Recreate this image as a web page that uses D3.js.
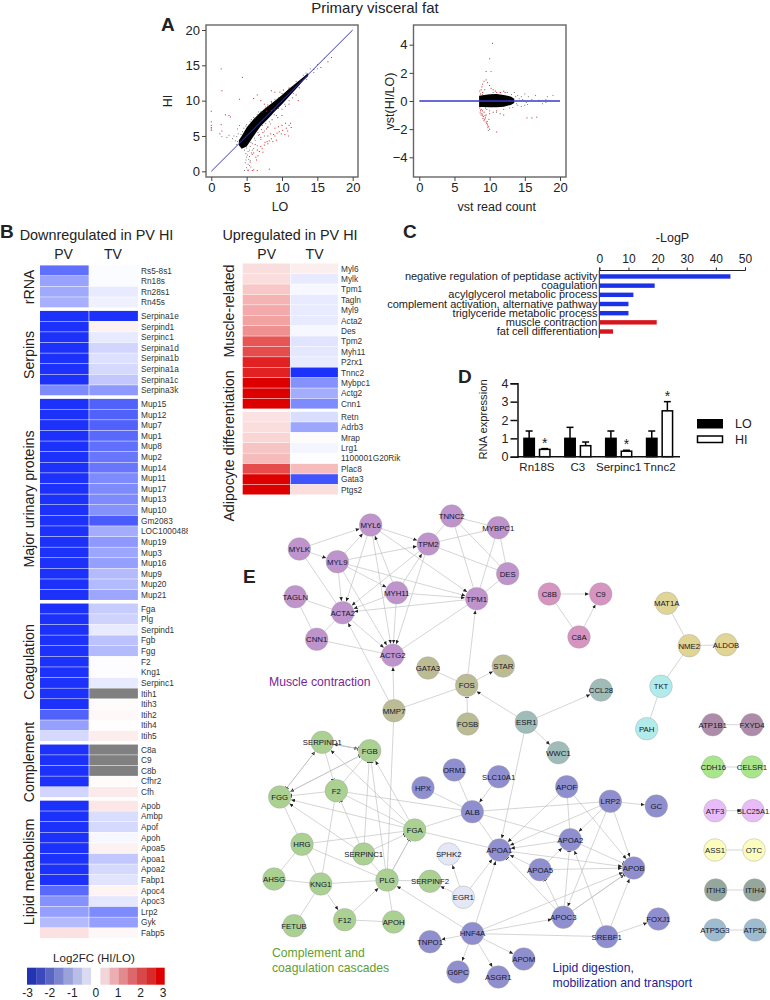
<!DOCTYPE html>
<html><head><meta charset="utf-8">
<script src="https://cdn.jsdelivr.net/npm/d3@7/dist/d3.min.js"></script>
<style>html,body{margin:0;padding:0;background:#fff}svg{display:block}text{font-family:"Liberation Sans",Arial,sans-serif;fill:#222}</style>
</head><body><svg id="c" width="770" height="1000" viewBox="0 0 770 1000"></svg>
<script>
// ---------- Panel A data
const scatterBandX=[3.9,4.3,5,6,7,8,9,10,11,12,13,13.7];
const scatterBandLow=[3.7,3.2,3.5,5,6.4,7.4,8.5,9.5,10.6,11.7,12.8,13.5];
const scatterBandHigh=[4.4,5,6.2,7.4,8.4,9.2,10,10.8,11.7,12.5,13.3,13.9];
const scatterRed=[[1.4,14.5],[4.4,13.3],[1.5,11.4],[4,10.2],[0,8.5],[0,7],[0,6.5],[0,6.2],[0,6],[0,5.8],[1.4,6.6],[1.5,5.7],[1.2,5.3],[2,8],[2.5,7.9],[2.7,7.7],[6,10.3],[6.5,10.8],[7,10],[7.5,9.5],[8.5,11.4],[9,11.2],[9.7,11.2],[10.2,11.5],[11,11.8],[8.5,9.9],[8,9.2],[7.8,8.5],[8.5,8.6],[9,8.7],[10.5,9.2],[11,9.5],[11.5,10.4],[12,10.8],[12.3,10],[17,16.1],[16.5,15.5],[14.5,14.4],[15.5,14.7],[6,2.6],[6.5,3],[6.8,2.8],[7,3.5],[7.2,3.2],[7.5,3.7],[7.6,4.1],[7.9,4.2],[8,3.9],[8.2,4.3],[8.5,4.6],[8.7,4.2],[8,5],[8.4,5.3],[8.8,5.2],[9,5],[9.3,5.4],[9.6,5.6],[9.9,5.3],[10.1,5.8],[10.4,5.2],[10.6,6.1],[10.8,5.7],[11,6.5],[11.2,6.8],[9,6.1],[9.5,6.3],[10,6.5],[10.5,6.8],[8,6.3],[7.8,6],[7.3,5.5],[6.7,5.1],[7,4.8],[11.3,6.2],[10.9,5],[9.2,4.4],[6.2,3.8],[5.8,2.4],[6.3,2],[6,0.2],[5.8,0.1],[6.5,0.1],[5.2,0.1],[8.2,0.3],[6.4,1.6],[6.6,2.2],[7.3,2.7],[5.5,1.3],[8.6,7.3],[9.4,7.6],[10,7.9],[7.2,6.5]];
const scatterBlack=[[4.7,3],[4.9,2.5],[5,2],[5.3,1.7],[4.8,1.2],[5.2,1],[5.5,1.5],[5,0.5],[5.4,0.8],[4.7,0.1],[5.2,0.2],[5.8,3],[5.5,3.5],[5.2,2.8],[6,3.2],[5,3.3],[6.5,3.6],[7,4.5],[7.5,5],[8,6.2],[3.2,5],[3.8,5.3],[2.5,5.1],[3,4.6],[2.2,4.8],[3.7,6],[4,6.5],[1.5,4.9],[5,6.6],[5.5,7],[6,7.6],[6.5,8],[7,8.4],[7.5,8.8],[8,9.4],[9,10.2],[10,11],[11,11.7],[12,12.7],[13,13.6],[14,14.5],[15,15.1],[16,16],[14.5,14],[15,14.5],[13.5,13],[12.5,11.8],[4.8,3.7],[5.6,4.1],[6.2,4.4],[6.8,5.2],[7.5,5.7],[8.4,6.7],[9.2,7.9],[10,8.8],[3.4,4.3],[3.6,4.9],[4.4,5.6],[4.6,6.1],[5.3,6.5],[6.2,7.5],[7.2,8.3],[5.7,2.6],[5.1,2.3],[5.4,2.1],[4.9,1.6],[5.6,0.6],[3.6,3.8],[3.7,4.2],[5.4,3],[5.8,3.9],[6.1,4.7],[6.6,5.5],[7.1,5.9],[7.7,6.8],[8.2,7],[8.9,8],[9.5,8.9],[10.4,9.5],[11,10],[11.6,11],[12.4,11.9],[4.2,5.2],[4.9,6.4],[5.7,7.3],[6.7,8.4],[7.7,9.1],[8.5,9.7],[9.5,10.4],[10.6,11.2],[11.6,12],[12.6,12.9],[13.4,13.9]];
const maBandX=[8.5,9,10,11,12,13,13.5];
const maBandLow=[-0.42,-0.43,-0.45,-0.45,-0.4,-0.28,-0.14];
const maBandHigh=[0.38,0.4,0.48,0.5,0.42,0.32,0.16];
const maRed=[[10.4,4.1],[10,3],[9.5,2.1],[8.9,1],[8.8,0.8],[8.6,0.7],[8.7,0.5],[9,1.2],[9.2,1.4],[9.5,1.5],[9.7,1.3],[10,1.1],[10.2,0.9],[10.5,0.8],[10.8,0.7],[11,0.6],[11.5,0.6],[12,0.7],[12.2,0.6],[9,0.6],[9.3,0.8],[8.6,-0.5],[8.7,-0.7],[8.8,-0.6],[8.9,-0.9],[9,-1],[9.1,-1.1],[9.2,-0.8],[9.3,-1.3],[9.4,-1.2],[9.5,-1.5],[9.6,-1.6],[9.7,-1.7],[9.8,-1.8],[9.5,-1],[9.2,-1.4],[9.9,-1.3],[8.8,-1],[9,-0.7],[10,-0.9],[10.5,-0.8],[11,-0.7],[11.5,-0.9],[12,-1],[11,-2.2],[15.3,-1.2],[16,-1.2],[16.7,-1.15],[10,-2],[9.4,-0.5],[8.65,-0.85],[9.05,-1.25],[9.35,-1.05],[9.65,-1.45],[9.75,-1.9]];
const maBlack=[[13.5,0.6],[14,0.4],[14.5,0.3],[15,0.5],[15.5,0.3],[16.5,0.4],[18.2,0.3],[19,0.4],[14,-0.3],[14.5,-0.4],[15,-0.3],[15.2,-0.1],[16,0.1],[17,0.05],[17.5,-0.2],[18,-0.1],[13.7,0.3],[13.8,-0.2],[14.2,0.15],[12.5,0.6],[12,-0.6],[11,-0.8],[10,-0.7],[9,0.45],[13.3,-0.45],[13.1,0.45],[12.8,-0.5],[14.7,0.1],[15.4,-0.25],[18,0.1],[11.5,0.6],[10.5,0.6],[9.6,-0.6],[10.2,2.1],[9.8,-2.1]];
// ---------- Panel B data
const downGroups=["rRNA","Serpins","Major urinary proteins","Coagulation","Complement","Lipid metabolism"];
const downGenes=[
 ["Rs5-8s1","Rn18s","Rn28s1","Rn45s"],
 ["Serpina1e","Serpind1","Serpinc1","Serpina1d","Serpina1b","Serpina1a","Serpina1c","Serpina3k"],
 ["Mup15","Mup12","Mup7","Mup1","Mup8","Mup2","Mup14","Mup11","Mup17","Mup13","Mup10","Gm2083","LOC100048885","Mup19","Mup3","Mup16","Mup9","Mup20","Mup21"],
 ["Fga","Plg","Serpind1","Fgb","Fgg","F2","Kng1","Serpinc1","Itih1","Itih3","Itih2","Itih4","Itih5"],
 ["C8a","C9","C8b","Cfhr2","Cfh"],
 ["Apob","Ambp","Apof","Apoh","Apoa5","Apoa1","Apoa2","Fabp1","Apoc4","Apoc3","Lrp2","Gyk","Fabp5"]];
const downPV=[
 [-2.1,-1.35,-1.25,-1.15],
 [-3,-3,-3,-3,-3,-3,-3,-1.7],
 [-3,-3,-3,-3,-3,-3,-3,-3,-3,-3,-3,-3,-3,-3,-3,-3,-3,-3,-3],
 [-3,-3,-3,-3,-3,-3,-3,-3,-3,-3,-2.3,-1.4,-0.55],
 [-3,-3,-3,-3,-0.6],
 [-3,-3,-3,-3,-3,-3,-3,-3,-2.2,-1.6,-1.4,-1,0.35]];
const downTV=[
 [-0.05,-0.05,-0.3,-0.2],
 [-3,0.15,-0.3,-0.6,-0.45,-0.55,-0.8,-1.5],
 [-2.3,-2.3,-2.3,-2.2,-2.1,-2,-2,-1.7,-1.7,-1.7,-1.6,-2.4,-1.2,-1.5,-1.3,-1.4,-1,-1,-1.3],
 [-0.75,-0.65,-0.3,-0.9,-1,-0.03,-0.03,-0.3,null,0.05,0.08,0.02,0.2],
 [null,null,null,0.05,0.25],
 [0.3,-0.5,-0.55,-0.1,0.15,-0.8,-0.55,-0.4,0.13,-0.35,-1.7,-1.4,0.1]];
const upGroups=["Muscle-related","Adipocyte differentiation"];
const upGenes=[
 ["Myl6","Mylk","Tpm1","Tagln","Myl9","Acta2","Des","Tpm2","Myh11","P2rx1","Tnnc2","Mybpc1","Actg2","Cnn1"],
 ["Retn","Adrb3","Mrap","Lrg1","1100001G20Rik","Plac8","Gata3","Ptgs2"]];
const upPV=[[0.4,0.4,0.65,0.9,1,1.1,1.3,2,2.1,2.6,2.6,3,3,3],[0.35,0.4,0.5,0.7,0.8,2.1,3,3]];
const upTV=[[0.2,-0.3,-0.1,-0.3,-0.3,-0.3,-0.12,-0.4,-0.35,-0.3,-3,-1.6,-1.2,-1.7],[-0.5,-1.3,0.05,-0.15,-0.03,0.8,-2.5,0.4]];
const legendColors=["#2233b3","#3b49ba","#5a66c4","#7b84cf","#9aa2da","#b9bee6","#d8dbf1","#ffffff","#f2d5d8","#ebaeb3","#e38a8f","#dc686b","#d94848","#d92a2a","#dd0000"];
const legendTicks=[-3,-2,-1,0,1,2,3];
// ---------- Panel C data
const goTerms=["negative regulation of peptidase activity","coagulation","acylglycerol metabolic process","complement activation, alternative pathway","triglyceride metabolic process","muscle contraction","fat cell differentiation"];
const goValues=[45,19,11.7,10,10,19.7,4.7];
const goDirection=["down","down","down","down","down","up","up"];
// ---------- Panel D data
const qpcrGenes=["Rn18S","C3","Serpinc1","Tnnc2"];
const qpcrLO=[1,1,1,1];
const qpcrHI=[0.4,0.6,0.3,2.5];
const qpcrLOerr=[0.4,0.6,0.4,0.4];
const qpcrHIerr=[0.04,0.2,0.05,0.5];
const qpcrStar=[true,false,true,true];
// ---------- Panel E data
const netNames=["MYL6","TNNC2","MYBPC1","TPM2","MYLK","MYL9","DES","TAGLN","MYH11","TPM1","ACTA2","CNN1","ACTG2","GATA3","STAR","FOS","MMP7","FOSB","C8B","C9","C8A","MAT1A","NME2","ALDOB","TKT","PAH","CCL28","ESR1","WWC1","ATP1B1","FXYD4","CDH16","CELSR1","ATF3","SLC25A1","ASS1","OTC","ITIH3","ITIH4","ATP5G3","ATP5L","ORM1","HPX","ALB","SERPIND1","FGB","F2","FGG","FGA","HRG","SERPINC1","SPHK2","AHSG","KNG1","PLG","SERPINF2","EGR1","FETUB","F12","APOH","TNPO1","HNF4A","G6PC","SLC10A1","APOF","LRP2","GC","APOA2","APOA1","APOB","APOA5","APOC3","FOXJ1","SREBF1","APOM","ASGR1"];
const netGroup=["m","m","m","m","m","m","m","m","m","m","m","m","m","o","o","o","o","o","p","p","p","y","y","y","c","c","t","t","t","r","r","g","g","v","v","l","l","s","s","q","q","b","b","b","n","n","n","n","n","n","n","w","n","n","n","n","w","n","n","n","b","b","b","b","b","b","b","b","b","b","b","b","b","b","b","b"];
const netLayoutX=[370.7,451.7,498.3,428.3,299.3,337.3,507.7,295.3,396.7,476.7,342.7,316.7,392.7,428,503.3,466.7,394,467.7,549.3,600.7,579,666.7,689.3,726,661,646.7,601,526.3,558.3,712.7,752,713.3,752,715,753,715,754,715.7,754.7,715,755,454.3,423,472.3,322.3,369.7,336.3,279.7,414.7,302,363.7,448.7,274,320.7,387,430,463.3,294,344.7,393.7,430,472.5,458,498.7,566.7,610.3,656.3,570.3,499.3,633.7,540,563.3,658.3,606.7,523.7,498.3];
const netLayoutY=[525,516,527.7,544,549,561.7,573.7,596.7,592.7,598.7,612.7,639.3,655.3,668,666,685.3,710.7,724,594,594,637,603.3,645.7,644.7,686.3,728.7,690,722.2,752.7,724.7,724.7,767,767,810.7,810.7,850,850,890,890,930,930,770,787.7,811.7,742.3,750.7,790.7,797,830,844.3,854,854,879,884,880,881.3,897.3,925.7,919.7,922,941.7,933.5,972,776.7,786.7,801.3,806,839.7,850,868,869.7,917.3,919,936.7,959,977];
const netColors={m:"#bf94cc",o:"#bcbc94",p:"#d694c0",y:"#e0d594",c:"#b2ecea",t:"#9fbcb8",r:"#ac8ca8",g:"#a8e68c",v:"#e8bcf8",l:"#fcfcbc",s:"#95a79d",q:"#9dbcd0",b:"#8f8fcf",n:"#aad092",w:"#e4e8f6"};
const netArrows=["MYLK>MYL6","MYLK>MYL9","MYL9>MYL6","MYL6>TPM2","MYL6>TPM1","MYL6>ACTA2","MYL6>ACTG2","MYL9>TPM2","MYL9>ACTA2","MYL9>TPM1","MYL9>MYH11","MYL9>ACTG2","MYH11>MYL6","MYH11>TPM2","MYH11>TPM1","MYH11>ACTA2","MYH11>ACTG2","TPM2>ACTA2","TPM2>ACTG2","TPM1>ACTA2","ACTA2>ACTG2","MMP7>ACTA2","MMP7>ACTG2","FOS>TPM1","FOS>STAR","ESR1>FOS","ESR1>CCL28","ESR1>WWC1","ESR1>APOA1","C8B>C9","C8A>C9","ATF3>SLC25A1","SERPIND1>FGB","FGB>SERPIND1","FGB>FGG","FGG>SERPIND1","FGA>FGG","SERPINC1>FGG","FGA>SERPIND1","FGA>FGB","KNG1>F12","F12>PLG","EGR1>SERPINF2","EGR1>SPHK2","EGR1>APOA1","HNF4A>PLG","HNF4A>TNPO1","HNF4A>G6PC","HNF4A>ASGR1","HNF4A>APOM","HNF4A>APOA1","HNF4A>APOC3","HNF4A>APOB","SLC10A1>ALB","APOF>APOA1","APOF>APOB","LRP2>GC","LRP2>APOA2","LRP2>APOA1","LRP2>APOB","LRP2>APOC3","APOA2>APOA1","APOA5>APOA1","APOA5>APOA2","APOA5>APOB","APOC3>APOB","SREBF1>APOB","SREBF1>APOA2","SREBF1>FOXJ1","APOA1>APOB"];
const netInhibits=["FOSB|FOS","SERPIND1|FGB","SERPIND1|F2","SERPIND1|FGG","SERPINC1|F2","SERPINC1|FGB","SERPINC1|FGA","PLG|FGB","PLG|FGA","FGG|FGB","APOC3|APOA5","APOC3|APOA2","APOC3|APOA1","APOC3|APOB","APOA2|APOB","F2|FGG"];
const netPlain=["MYLK-ACTA2","TPM2-TNNC2","TPM2-MYBPC1","TPM2-DES","TNNC2-MYBPC1","TNNC2-TPM1","TNNC2-DES","MYBPC1-TPM1","MYBPC1-DES","DES-TPM1","TAGLN-ACTA2","TAGLN-CNN1","CNN1-ACTA2","CNN1-ACTG2","TPM1-ACTG2","GATA3-FOS","MMP7-FOS","MMP7-PLG","C8B-C8A","MAT1A-NME2","NME2-ALDOB","NME2-TKT","TKT-PAH","ATP1B1-FXYD4","CDH16-CELSR1","ASS1-OTC","ITIH3-ITIH4","ATP5G3-ATP5L","FGB-F2","F2-FGA","F2-KNG1","F2-ALB","FGG-HRG","HRG-FGA","FGA-PLG","FGA-ALB","FGA-APOA1","HRG-PLG","HRG-AHSG","HRG-KNG1","SERPINC1-PLG","AHSG-KNG1","KNG1-PLG","KNG1-FETUB","F12-APOH","PLG-APOH","PLG-SERPINF2","HNF4A-SREBF1","ORM1-ALB","HPX-ALB","ALB-LRP2","ALB-APOA1","ALB-APOA2","APOF-APOA2"];
const F="'Liberation Sans',Arial,sans-serif";
const svg=d3.select("#c");
const T=(x,y,s,o={})=>{const e=svg.append("text").attr("x",x).attr("y",y).attr("font-size",o.size||12).attr("text-anchor",o.anchor||"start").text(s);
 if(o.weight)e.attr("font-weight",o.weight);if(o.fill)e.style("fill",o.fill);if(o.rot)e.attr("transform",`rotate(${o.rot} ${x} ${y})`);return e;};
// Panel letters & title
T(375,13,"Primary visceral fat",{size:15,anchor:"middle"});
T(161,31,"A",{size:19,weight:"bold"});T(0,238,"B",{size:19,weight:"bold"});T(403,238,"C",{size:19,weight:"bold"});T(458,383,"D",{size:19,weight:"bold"});T(243,583,"E",{size:19,weight:"bold"});

// Panel A helper
function scatterPanel(frame,xS,yS,yTicks,band,red,black,line,xlab,ylab,ylabX){
 const g=svg.append("g");
 const area=d3.area().x(d=>xS(d[0])).y0(d=>yS(d[1])).y1(d=>yS(d[2]));
 g.append("path").attr("d",area(band)).attr("fill","#000");
 g.selectAll(".k").data(black).join("rect").attr("x",d=>xS(d[0])-.4).attr("y",d=>yS(d[1])-.4).attr("width",.8).attr("height",.8).attr("fill","#333");
 g.selectAll(".r").data(red).join("rect").attr("x",d=>xS(d[0])-.5).attr("y",d=>yS(d[1])-.5).attr("width",1).attr("height",1).attr("fill","#d42020");
 g.append("path").attr("d",d3.line().x(d=>xS(d[0])).y(d=>yS(d[1]))(line)).attr("stroke","#3838c8").attr("stroke-width",line[0][1]===line[1][1]?1.4:1).attr("fill","none");
 g.append("rect").attr("x",frame[0]).attr("y",frame[1]).attr("width",frame[2]-frame[0]).attr("height",frame[3]-frame[1]).attr("fill","none").attr("stroke","#666").attr("stroke-width",1.4);
 const ax=g.append("g").attr("transform",`translate(0,${frame[3]})`).call(d3.axisBottom(xS).tickValues([0,5,10,15,20]).tickSize(4).tickPadding(2));
 const ay=g.append("g").attr("transform",`translate(${frame[0]},0)`).call(d3.axisLeft(yS).tickValues(yTicks).tickSize(4).tickPadding(2));
 [ax,ay].forEach(a=>{a.select(".domain").remove();a.selectAll("line").attr("stroke","#444");a.selectAll("text").attr("font-size",13).attr("font-family",F).style("fill","#222");});
 T((frame[0]+frame[2])/2+ (xlab==="LO"?-2:7),211,xlab,{size:12.5,anchor:"middle"});
 T(ylabX,101,ylab,{size:12.5,anchor:"middle",rot:-90});
}
const toRows=(a,b,c)=>a.map((v,i)=>[v,b[i],c[i]]);
scatterPanel([206,25,358,177],d3.scaleLinear([0,20],[211.3,352.7]),d3.scaleLinear([0,20],[171.3,30]),[0,5,10,15,20],toRows(scatterBandX,scatterBandLow,scatterBandHigh),scatterRed,scatterBlack,[[0,0],[20,20]],"LO","HI",172);
scatterPanel([413.5,25,566,177],d3.scaleLinear([0,20],[419.3,560]),d3.scaleLinear([-4,4],[157.3,44.7]),[-4,-2,0,2,4],toRows(maBandX,maBandLow,maBandHigh),maRed,maBlack,[[0,0],[20,0]],"vst read count","vst(HI/LO)",394);

// Panel B
const heat=d3.scaleLinear().domain([-3,0,3]).range(["#1c32fa","#ffffff","#dd0000"]).clamp(true);
function heatmap(groups,genes,pv,tv,o){
 let idx=0;
 const y=d3.scaleLinear().domain([0,1]).range([o.y0,o.y0+o.pitch]);
 const colX=d3.scaleBand().domain(["PV","TV"]).range(o.xr);
 groups.forEach((gName,gi)=>{
  genes[gi].forEach((gene,i)=>{
   const pos=idx+gi*o.gap;
   ["PV","TV"].forEach((c,k)=>{
    const v=(k?tv:pv)[gi][i];
    svg.append("rect").attr("x",colX(c)).attr("y",y(pos)-o.pitch/2).attr("width",colX.bandwidth()-.6).attr("height",o.pitch-.5).attr("fill",v===null?"#808080":heat(v));
   });
   const t=T(o.xr[1]+2.5,y(pos)+2.8,gene,{size:8.3,fill:"#333"});
   if(o.clip)t.attr("clip-path","url(#lblclip)");
   idx++;
  });
 });
 ["PV","TV"].forEach(c=>svg.append("text").attr("x",colX(c)+colX.bandwidth()/2-(o.clip?1:0)).attr("y",o.yHead).attr("font-size",14).attr("text-anchor","middle").text(c));
}
svg.append("defs").append("clipPath").attr("id","lblclip").append("rect").attr("x",130).attr("y",250).attr("width",58).attr("height",700);
heatmap(downGroups,downGenes,downPV,downTV,{y0:270.7,pitch:10.61,gap:.29,xr:[40,138.5],yHead:259,clip:true});
heatmap(upGroups,upGenes,upPV,upTV,{y0:268.7,pitch:10.4,gap:.26,xr:[242.7,338.5],yHead:259});
T(96.5,240,"Downregulated in PV HI",{size:14.4,anchor:"middle"});
T(290,240,"Upregulated in PV HI",{size:14.4,anchor:"middle"});
[["rRNA",287,33.5],["Serpins",355,33.5],["Major urinary proteins",499,33.5],["Coagulation",662,33.5],["Complement",762,33.5],["Lipid metabolism",872,33.5],["Muscle-related",311,234],["Adipocyte differentiation",446,234]].forEach(d=>T(d[2],d[1],d[0],{size:14.2,anchor:"middle",rot:-90}));
// Legend
T(94,962,"Log2FC (HI/LO)",{size:11.5,anchor:"middle"});
const lg=d3.scaleBand().domain(d3.range(legendColors.length)).range([27,164.5]);
svg.selectAll(".lg").data(legendColors).join("rect").attr("x",(d,i)=>lg(i)).attr("y",967.7).attr("width",lg.bandwidth()+.2).attr("height",17).attr("fill",d=>d);
const lgT=d3.scaleLinear([-3,3],[28.5,163]);
legendTicks.forEach(t=>T(lgT(t)+(t<0?-1:0),997,t,{size:12,anchor:"middle"}));

// Panel C
const cx=d3.scaleLinear([0,50],[599.3,745]);
const cy=d3.scaleBand().domain(goTerms).range([269.5,338.5]).padding(.52);
const cAxis=svg.append("g").attr("transform","translate(0,270)").call(d3.axisTop(cx).tickValues([0,10,20,30,40,50]).tickSize(2.5).tickPadding(5));
cAxis.select(".domain").attr("stroke","#222");cAxis.selectAll("line").attr("stroke","#222");cAxis.selectAll("text").attr("font-size",12).attr("font-family",F).style("fill","#222");
svg.append("line").attr("x1",cx(0)).attr("x2",cx(0)).attr("y1",270).attr("y2",338).attr("stroke","#222");
T(672.5,242,"-LogP",{size:12.5,anchor:"middle"});
goTerms.forEach((t,i)=>{
 svg.append("rect").attr("x",cx(0)).attr("y",cy(t)).attr("width",cx(goValues[i])-cx(0)).attr("height",cy.bandwidth()).attr("fill",goDirection[i]==="down"?"#1c32e8":"#d8141e");
 T(597.5,cy(t)+cy.bandwidth()/2+3.6,t,{size:11,anchor:"end"});
});

// Panel D
const dy=d3.scaleLinear([0,4],[456.7,383.3]);
const dx=d3.scaleBand().domain(qpcrGenes).range([517.5,681]);
const dAxis=svg.append("g").attr("transform","translate(517.5,0)").call(d3.axisLeft(dy).tickValues([0,1,2,3,4]).tickFormat(d3.format("d")).tickSize(7).tickPadding(2));
dAxis.select(".domain").attr("stroke","#111").attr("stroke-width",1.5);dAxis.selectAll("line").attr("stroke","#111").attr("stroke-width",1.5);dAxis.selectAll("text").attr("font-size",12.5).attr("font-family",F).style("fill","#222");
qpcrGenes.forEach((g,i)=>{
 const c=dx(g)+dx.bandwidth()/2-1;
 [[qpcrLO[i],qpcrLOerr[i],c-7.8,"#000"],[qpcrHI[i],qpcrHIerr[i],c+7.8,"#fff"]].forEach(b=>{
  svg.append("line").attr("x1",b[2]).attr("x2",b[2]).attr("y1",dy(b[0])).attr("y2",dy(b[0]+b[1])).attr("stroke","#000").attr("stroke-width",1.5);
  svg.append("line").attr("x1",b[2]-3.5).attr("x2",b[2]+3.5).attr("y1",dy(b[0]+b[1])).attr("y2",dy(b[0]+b[1])).attr("stroke","#000").attr("stroke-width",1.5);
  svg.append("rect").attr("x",b[2]-5.2).attr("y",dy(b[0])).attr("width",10.4).attr("height",dy(0)-dy(b[0])).attr("fill",b[3]).attr("stroke","#000").attr("stroke-width",1.5);
 });
 if(qpcrStar[i])T(c+7.8,dy(qpcrHI[i]+qpcrHIerr[i])-1,"*",{size:14,anchor:"middle"});
 T(c,470.5,g,{size:11.5,anchor:"middle"});
});
svg.append("line").attr("x1",517).attr("x2",680).attr("y1",456.7).attr("y2",456.7).attr("stroke","#111").attr("stroke-width",1.5);
T(487,419.5,"RNA expression",{size:11.2,anchor:"middle",rot:-90});
svg.append("rect").attr("x",697.5).attr("y",419.5).attr("width",25).attr("height",8.5).attr("fill","#000").attr("stroke","#000");
svg.append("rect").attr("x",697.5).attr("y",436).attr("width",25).attr("height",6.5).attr("fill","#fff").attr("stroke","#000").attr("stroke-width",1.5);
T(735,428,"LO",{size:12.5});T(735,444,"HI",{size:12.5});

// Panel E
const nx=d3.scaleLinear([0,770],[0,770]),ny=d3.scaleLinear([0,1000],[0,1000]);
const R=11.3;
const nodes=new Map(netNames.map((n,i)=>[n,{n,g:netGroup[i],x:nx(netLayoutX[i]),y:ny(netLayoutY[i])}]));
const defs=svg.select("defs");
defs.append("marker").attr("id","arr").attr("viewBox","0 0 6 6").attr("refX",5.6).attr("refY",3).attr("markerWidth",4).attr("markerHeight",4).attr("markerUnits","userSpaceOnUse").attr("orient","auto").append("path").attr("d","M0,0.4L6,3L0,5.6Z").attr("fill","#222");
defs.append("marker").attr("id","tee").attr("viewBox","0 0 2 8").attr("refX",1).attr("refY",4).attr("markerWidth",1).attr("markerHeight",5).attr("markerUnits","userSpaceOnUse").attr("orient","auto").append("rect").attr("width",2).attr("height",8).attr("fill","#333");
const edges=[...netArrows.map(s=>[...s.split(">"),"arr"]),...netInhibits.map(s=>[...s.split("|"),"tee"]),...netPlain.map(s=>[...s.split("-"),""])];
svg.append("g").selectAll("line").data(edges).join("line").each(function(d){
 const a=nodes.get(d[0]),b=nodes.get(d[1]);const L=Math.hypot(b.x-a.x,b.y-a.y);const ux=(b.x-a.x)/L,uy=(b.y-a.y)/L;
 const e=d[2]?R+.6:0;
 d3.select(this).attr("x1",a.x).attr("y1",a.y).attr("x2",b.x-ux*e).attr("y2",b.y-uy*e);
 if(d[2])d3.select(this).attr("marker-end",`url(#${d[2]})`);
}).attr("stroke","#b8b8b8").attr("stroke-width",.6);
const ng=svg.append("g").selectAll("g").data([...nodes.values()]).join("g").attr("transform",d=>`translate(${d.x},${d.y})`);
ng.append("circle").attr("r",R).attr("fill",d=>netColors[d.g]).attr("stroke","#a0a0a0").attr("stroke-width",.4);
ng.append("text").attr("text-anchor","middle").attr("dy",2.8).attr("font-size",d=>d.n==="SLC25A1"?7.5:7.8).style("fill","#14142a").text(d=>d.n);
T(269,686,"Muscle contraction",{size:12.2,fill:"#7b1f96"});
T(272,957,"Complement and",{size:12.2,fill:"#5f9e2e"});
T(272,972,"coagulation cascades",{size:12.2,fill:"#5f9e2e"});
T(552.5,972,"Lipid digestion,",{size:12.2,fill:"#1c1c94"});
T(552.5,987,"mobilization and transport",{size:12.2,fill:"#1c1c94"});
</script></body></html>
